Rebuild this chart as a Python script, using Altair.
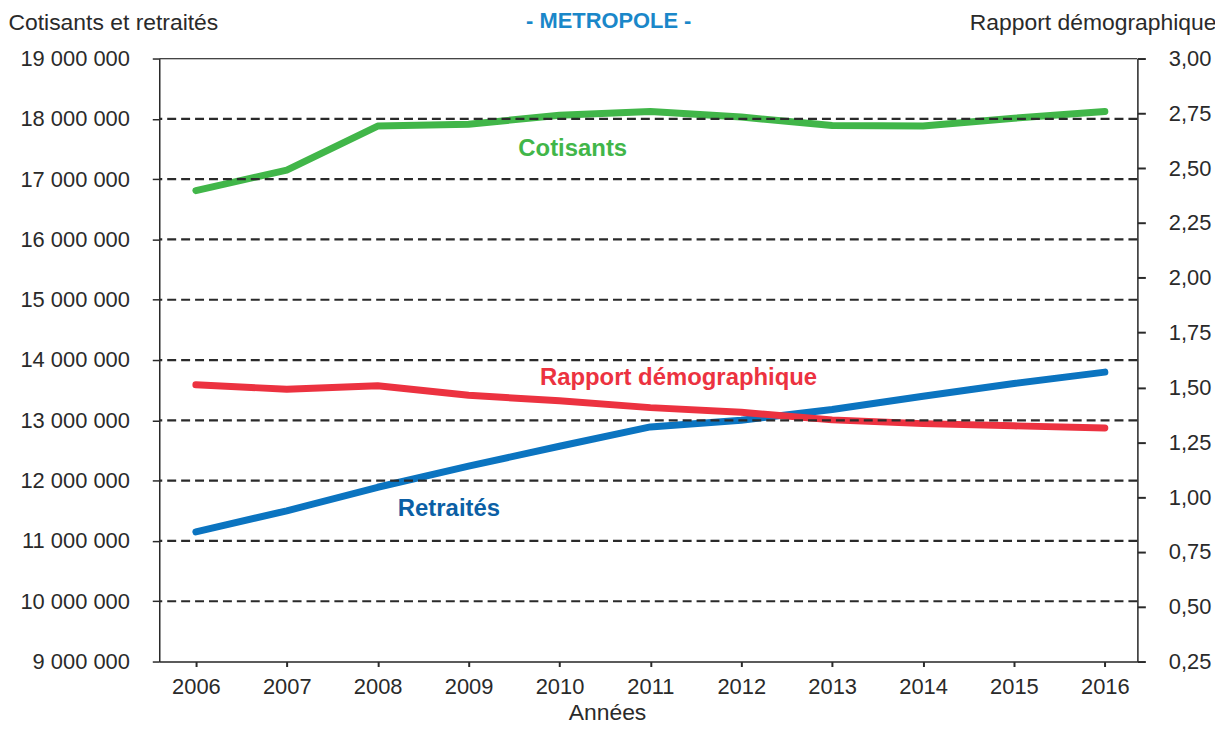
import altair as alt
import pandas as pd

# ---- data ----
years = [2006, 2007, 2008, 2009, 2010, 2011, 2012, 2013, 2014, 2015, 2016]
cotisants = [16810000, 17150000, 17880000, 17910000, 18060000, 18120000,
             18030000, 17890000, 17880000, 18010000, 18120000]
retraites = [11150000, 11500000, 11890000, 12240000, 12570000, 12890000,
             13000000, 13180000, 13400000, 13610000, 13800000]
rapport = [1.512, 1.492, 1.508, 1.464, 1.439, 1.408, 1.387, 1.352, 1.335, 1.325, 1.315]

left_ticks = [9000000, 10000000, 11000000, 12000000, 13000000, 14000000,
              15000000, 16000000, 17000000, 18000000, 19000000]
grid_values = [10000000, 11000000, 12000000, 13000000, 14000000,
               15000000, 16000000, 17000000, 18000000]
top_value = [19000000]
right_ticks = [0.25, 0.50, 0.75, 1.00, 1.25, 1.50, 1.75, 2.00, 2.25, 2.50, 2.75, 3.00]

label_texts = ["Cotisants", "Rapport démographique", "Retraités"]
label_x = [2010.146, 2011.31, 2008.784]
label_y = [17384000, 13593000, 11417000]

title_text = ["- METROPOLE -"]
title_x = [2010.542]
title_y = [19500000]

FONT = "Liberation Sans"
GREEN = "#41b649"
BLUE = "#0b74c0"
BLUE_LABEL = "#0b5fa5"
RED = "#ec3240"
TITLE_BLUE = "#1a87c9"
INK = "#2a2a2a"
FS = 22
TFS = 23

X_DOMAIN = [2005.597, 2016.358]
LEFT_DOMAIN = [9000000, 19000000]
RIGHT_DOMAIN = [0.25, 3.0]
W = 983

x_scale = alt.Scale(domain=X_DOMAIN, nice=False, zero=False)
left_scale = alt.Scale(domain=LEFT_DOMAIN, nice=False, zero=False)
right_scale = alt.Scale(domain=RIGHT_DOMAIN, nice=False, zero=False)

df_lines = pd.DataFrame({
    "annee": years * 2,
    "valeur": cotisants + retraites,
    "serie": ["Cotisants"] * len(years) + ["Retraités"] * len(years),
})
df_ratio = pd.DataFrame({"annee": years, "rapport": rapport})
df_grid = pd.DataFrame({"v": grid_values})
df_top = pd.DataFrame({"v": top_value})
df_labels = pd.DataFrame({
    "annee": label_x, "y": label_y, "label": label_texts,
    "col": [GREEN, RED, BLUE_LABEL],
})
df_title = pd.DataFrame({"annee": title_x, "y": title_y, "label": title_text})

x_axis = alt.Axis(
    values=years, format="d", title="Années", grid=False,
    tickSize=5, labelPadding=10, labelFontSize=FS, titleFontSize=TFS,
    titleFontWeight="normal", labelFont=FONT, titleFont=FONT,
    labelColor=INK, titleColor=INK, domainColor=INK, tickColor=INK,
    domainWidth=1.5, tickWidth=2, titleY=58, titleX=450, titleAlign="center",
    titleBaseline="alphabetic",
)


def X():
    return alt.X("annee:Q", scale=x_scale, axis=x_axis, title="Années")


left_axis = alt.Axis(
    values=left_ticks,
    labelExpr="replace(replace(format(datum.value, ','), ',', ' '), ',', ' ')",
    title="Cotisants et retraités", titleAngle=0, titleAlign="left",
    titleX=-152, titleY=-29, titleBaseline="alphabetic",
    tickSize=7, labelPadding=23, grid=False,
    labelFontSize=FS, titleFontSize=TFS, titleFontWeight="normal",
    labelFont=FONT, titleFont=FONT, labelColor=INK, titleColor=INK,
    domainColor=INK, tickColor=INK, domainWidth=1.5, tickWidth=1.5,
)

right_axis = alt.Axis(
    orient="right", values=right_ticks,
    labelExpr="replace(format(datum.value, '.2f'), '.', ',')",
    title="Rapport démographique", titleAngle=0, titleAlign="right",
    titleX=79, titleY=-29, titleBaseline="alphabetic",
    tickSize=8, labelPadding=23, grid=False,
    labelFontSize=FS, titleFontSize=TFS, titleFontWeight="normal",
    labelFont=FONT, titleFont=FONT, labelColor=INK, titleColor=INK,
    domainColor=INK, tickColor=INK, domainWidth=1.5, tickWidth=2,
)

lines = alt.Chart(df_lines).mark_line(strokeWidth=7, strokeCap="round", strokeJoin="round").encode(
    x=X(),
    y=alt.Y("valeur:Q", scale=left_scale, axis=left_axis),
    color=alt.Color("serie:N", scale=alt.Scale(domain=["Cotisants", "Retraités"], range=[GREEN, BLUE]), legend=None),
)

ratio = alt.Chart(df_ratio).mark_line(strokeWidth=7, strokeCap="round", strokeJoin="round", color=RED).encode(
    x=X(),
    y=alt.Y("rapport:Q", scale=right_scale, axis=right_axis),
)

grid = alt.Chart(df_grid).mark_rule(strokeDash=[9, 5], strokeWidth=2.2, color=INK).encode(
    y=alt.Y("v:Q", scale=left_scale, axis=None),
)

top = alt.Chart(df_top).mark_rule(strokeWidth=1.2, color="#444").encode(
    y=alt.Y("v:Q", scale=left_scale, axis=None),
)

labels = alt.Chart(df_labels).mark_text(
    font=FONT, fontSize=24, fontWeight="bold", align="center", baseline="alphabetic"
).encode(
    x=X(),
    y=alt.Y("y:Q", scale=left_scale, axis=None),
    text="label:N",
    color=alt.Color("col:N", scale=None),
)

title = alt.Chart(df_title).mark_text(
    font=FONT, fontSize=22, fontWeight="bold", align="center", baseline="alphabetic",
    color=TITLE_BLUE,
).encode(
    x=X(),
    y=alt.Y("y:Q", scale=left_scale, axis=None),
    text="label:N",
)

chart = alt.layer(lines, ratio, grid, top, labels, title).resolve_scale(
    y="independent"
).properties(
    width=W, height=606,
    autosize=alt.AutoSizeParams(type="none"),
    padding={"left": 152, "top": 49, "right": 78, "bottom": 62},
).configure_view(stroke=None).configure(background="white")

chart.save("out.html", embed_options={"renderer": "svg", "actions": False})
